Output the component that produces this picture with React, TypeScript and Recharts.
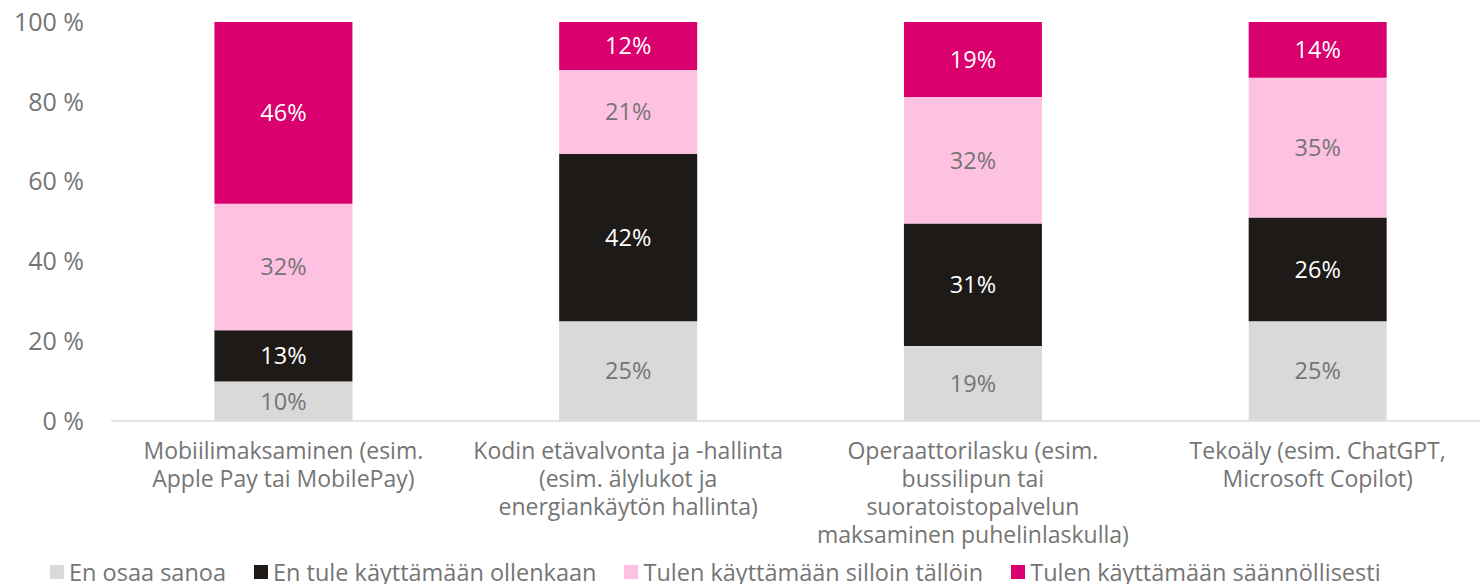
import { BarChart, Bar, XAxis, YAxis, LabelList, Legend } from "recharts";

const categories = [
  "Mobiilimaksaminen (esim.\nApple Pay tai MobilePay)",
  "Kodin etävalvonta ja -hallinta\n(esim. älylukot ja\nenergiankäytön hallinta)",
  "Operaattorilasku (esim.\nbussilipun tai\nsuoratoistopalvelun\nmaksaminen puhelinlaskulla)",
  "Tekoäly (esim. ChatGPT,\nMicrosoft Copilot)",
];

const enOsaaSanoa = [10, 25, 19, 25];
const enTuleKayttamaan = [13, 42, 31, 26];
const silloinTalloin = [32, 21, 32, 35];
const saannollisesti = [46, 12, 19, 14];

const yTicks = [0, 0.2, 0.4, 0.6, 0.8, 1];

const series = [
  { key: "enOsaa", name: "En osaa sanoa", color: "#D9D9D9", label: "#757575" },
  { key: "enTule", name: "En tule käyttämään ollenkaan", color: "#1D1A17", label: "#FFFFFF" },
  { key: "silloin", name: "Tulen käyttämään silloin tällöin", color: "#FFC1E1", label: "#757575" },
  { key: "saann", name: "Tulen käyttämään säännöllisesti", color: "#DA006D", label: "#FFFFFF" },
];

const data = categories.map((category, i) => ({
  category,
  enOsaa: enOsaaSanoa[i],
  enTule: enTuleKayttamaan[i],
  silloin: silloinTalloin[i],
  saann: saannollisesti[i],
}));

const FONT = "'Open Sans', sans-serif";
const TEXT = "#757575";

function CategoryTick(props: any) {
  const { x, y, payload } = props;
  const lines = String(payload.value).split("\n");
  return (
    <text x={x} y={y} textAnchor="middle" fill={TEXT} fontSize={23} fontFamily={FONT}>
      {lines.map((line, i) => (
        <tspan key={i} x={x} dy={i === 0 ? 38 : 28}>
          {line}
        </tspan>
      ))}
    </text>
  );
}

function BottomLegend() {
  return (
    <div
      style={{
        display: "flex",
        height: 28,
        paddingLeft: 50,
        boxSizing: "border-box",
        fontFamily: FONT,
        fontSize: 23.5,
        lineHeight: "26px",
        color: TEXT,
        alignItems: "center",
        paddingTop: 3,
        whiteSpace: "nowrap",
      }}
    >
      {series.map((s) => (
        <div key={s.key} style={{ display: "flex", alignItems: "center", marginRight: 28 }}>
          <span style={{ width: 14, height: 14, background: s.color, marginRight: 5, display: "inline-block" }} />
          <span>{s.name}</span>
        </div>
      ))}
    </div>
  );
}

export default function App() {
  return (
    <div style={{ position: "absolute", left: 0, top: 0, width: 1480, height: 584, overflow: "hidden", background: "#fff" }}>
      <BarChart
        width={1500}
        height={584}
        data={data}
        stackOffset="expand"
        barCategoryGap="30%"
        margin={{ top: 22, right: 10, left: 0, bottom: 0 }}
      >
        <XAxis
          dataKey="category"
          axisLine={{ stroke: "#DCDCDC", strokeWidth: 1.5 }}
          tickLine={false}
          tickSize={0}
          tickMargin={0}
          height={135}
          interval={0}
          tick={<CategoryTick />}
        />
        <YAxis
          width={111}
          domain={[0, 1]}
          ticks={yTicks}
          axisLine={false}
          tickLine={false}
          tickSize={6}
          tickMargin={21}
          tickFormatter={(v: number) => `${Math.round(v * 100)} %`}
          tick={{ fill: TEXT, fontSize: 25, fontFamily: FONT }}
        />
        <Legend verticalAlign="bottom" content={<BottomLegend />} wrapperStyle={{ left: 0, width: 1480 }} />
        {series.map((s) => (
          <Bar key={s.key} dataKey={s.key} name={s.name} stackId="a" fill={s.color} isAnimationActive={false}>
            <LabelList
              dataKey={s.key}
              position="center"
              formatter={(v: any) => `${v}%`}
              fill={s.label}
              fontSize={23.5}
              fontFamily={FONT}
            />
          </Bar>
        ))}
      </BarChart>
    </div>
  );
}
